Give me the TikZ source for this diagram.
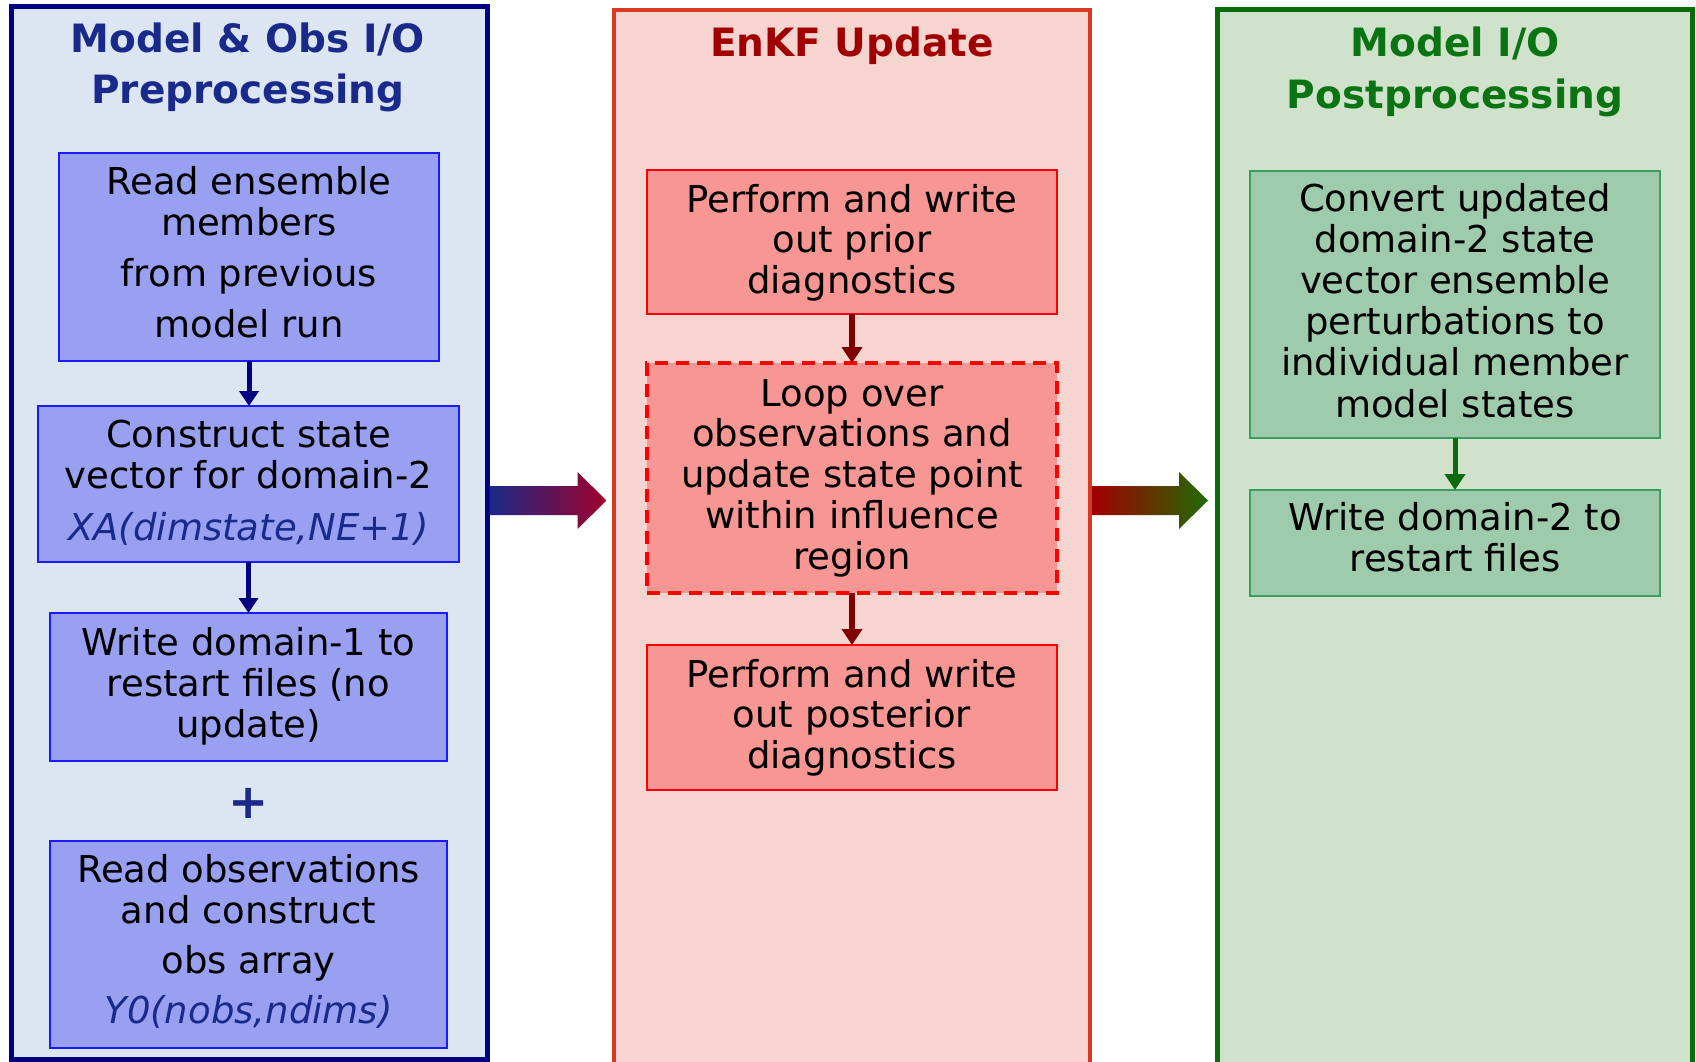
\documentclass[tikz,border=0pt]{standalone}
\usepackage{fontspec}
\setmainfont{DejaVu Sans}
\usetikzlibrary{arrows.meta}
\definecolor{panelblue}{HTML}{DCE6F2}
\definecolor{navyline}{HTML}{000080}
\definecolor{titleblue}{HTML}{1A2A8A}
\definecolor{boxbluefill}{HTML}{99A0F2}
\definecolor{boxblueline}{HTML}{1A1AFF}
\definecolor{panelred}{HTML}{F6D5D1}
\definecolor{panelredline}{HTML}{D93A22}
\definecolor{titlered}{HTML}{A00000}
\definecolor{boxredfill}{HTML}{F89693}
\definecolor{boxredline}{HTML}{FF0000}
\definecolor{arrred}{HTML}{800000}
\definecolor{panelgreen}{HTML}{D0E1CC}
\definecolor{panelgreenline}{HTML}{0A6B0A}
\definecolor{titlegreen}{HTML}{0A7412}
\definecolor{boxgreenfill}{HTML}{9FCBAD}
\definecolor{boxgreenline}{HTML}{3A9E5E}
\definecolor{arrgreen}{HTML}{0A6B0A}
\definecolor{gradred}{HTML}{A0002A}
\definecolor{gradred2}{HTML}{A00000}
\definecolor{gradgreen}{HTML}{1F6B00}
% box text: width, height, first-baseline offset, baselineskip, body
\newcommand\bxtext[5]{\parbox[t][#2][t]{#1}{\centering\fontsize{37pt}{#4}\selectfont\vspace*{\dimexpr#3-30pt\relax}\rule{0pt}{30pt}#5}}
% title text: width, first-baseline offset, baselineskip, body
\newcommand\ttltext[4]{\parbox[t]{#1}{\centering\fontsize{39pt}{#3}\selectfont\bfseries\vspace*{\dimexpr#2-32pt\relax}\rule{0pt}{32pt}#4}}
\begin{document}
\begin{tikzpicture}[x=1pt,y=-1pt,
  panel/.style={draw, rectangle, inner sep=0pt, outer sep=0pt, anchor=north west},
  bluebox/.style={draw=boxblueline, fill=boxbluefill, line width=2pt, rectangle, inner sep=0pt, outer sep=0pt, anchor=north west},
  redbox/.style={draw=boxredline, fill=boxredfill, line width=2pt, rectangle, inner sep=0pt, outer sep=0pt, anchor=north west},
  greenbox/.style={draw=boxgreenline, fill=boxgreenfill, line width=2pt, rectangle, inner sep=0pt, outer sep=0pt, anchor=north west},
  ttl/.style={anchor=north, inner sep=0pt},
  navyarr/.style={draw=navyline, line width=5pt, -{Triangle[width=19pt,length=15pt]}},
  redarr/.style={draw=arrred, line width=6pt, -{Triangle[width=20pt,length=16pt]}},
  greenarr/.style={draw=arrgreen, line width=5pt, -{Triangle[width=20pt,length=16pt]}}]
\useasboundingbox (0,0) rectangle (1696,1062);
\clip (0,0) rectangle (1696,1062);
\fill[white] (0,0) rectangle (1696,1062);

% panels
\node[panel, draw=navyline, fill=panelblue, line width=5pt, minimum width=476pt, minimum height=1052pt] (lp) at (11,7) {};
\node[panel, draw=panelredline, fill=panelred, line width=4pt, minimum width=476pt, minimum height=1080pt] (mp) at (614,10) {};
\node[panel, draw=panelgreenline, fill=panelgreen, line width=5pt, minimum width=475pt, minimum height=1080pt] (rp) at (1217,10) {};

% titles
\node[ttl, text=titleblue] (lt) at (248,20) {\ttltext{450pt}{32pt}{51pt}{Model \& Obs I/O\\Preprocessing}};
\node[ttl, text=titlered] (mt) at (852,24) {\ttltext{450pt}{32pt}{51pt}{EnKF Update}};
\node[ttl, text=titlegreen] (rt) at (1455,24) {\ttltext{450pt}{32pt}{52pt}{Model I/O\\Postprocessing}};

% left column boxes
\node[bluebox] (b1) at (59,153) {\bxtext{380pt}{208pt}{42pt}{40pt}{Read ensemble\\members\\[12pt]from previous\\[10pt]model run}};
\node[bluebox] (b2) at (38,406) {\bxtext{421pt}{156pt}{41pt}{41pt}{Construct state\\vector for domain-2\\[11pt]{\itshape\color{titleblue}XA(dimstate,NE+1)}}};
\node[bluebox] (b3) at (50,613) {\bxtext{397pt}{148pt}{42pt}{41pt}{Write domain-1 to\\restart files (no\\update)}};
\node[text=titleblue, font=\fontsize{48pt}{48pt}\selectfont\bfseries, inner sep=0pt] (plus) at (249,803) {+};
\node[bluebox] (b4) at (50,841) {\bxtext{397pt}{207pt}{41pt}{41pt}{Read observations\\and construct\\[9pt]obs array\\[9pt]{\itshape\color{titleblue}Y0(nobs,ndims)}}};

% middle column boxes
\node[redbox] (p1) at (647,170) {\bxtext{410pt}{144pt}{42pt}{40.5pt}{Perform and write\\out prior\\diagnostics}};
\node[redbox, dash pattern=on 13pt off 8pt, line width=4pt] (loop) at (647,363) {\bxtext{410pt}{230pt}{43pt}{40.75pt}{Loop over\\observations and\\update state point\\within influence\\region}};
\node[redbox] (p2) at (647,645) {\bxtext{410pt}{145pt}{42pt}{40.5pt}{Perform and write\\out posterior\\diagnostics}};

% right column boxes
\node[greenbox] (c1) at (1250,171) {\bxtext{410pt}{267pt}{40pt}{41.2pt}{Convert updated\\domain-2 state\\vector ensemble\\perturbations to\\individual member\\model states}};
\node[greenbox] (w2) at (1250,490) {\bxtext{410pt}{106pt}{40pt}{41pt}{Write domain-2 to\\restart files}};

% small arrows
\draw[navyarr] (b1.south) -- (b1.south |- b2.north);
\draw[navyarr] (b2.south) -- (b2.south |- b3.north);
\draw[redarr] (p1.south) -- (p1.south |- loop.north);
\draw[redarr] (loop.south) -- (loop.south |- p2.north);
\draw[greenarr] (c1.south) -- (c1.south |- w2.north);

% block arrows between panels
\coordinate (a1s) at ([xshift=2.5pt]lp.east |- 0,500.5);
\coordinate (a2s) at ([xshift=2pt]mp.east |- 0,500.5);
\shade[left color=titleblue, right color=gradred] (a1s) ++(0,-14.5) -- ++(88,0) -- ++(0,-14) -- ++(29,28.5) -- ++(-29,28.5) -- ++(0,-14) -- ++(-88,0) -- cycle;
\shade[left color=gradred2, right color=gradgreen] (a2s) ++(0,-14.5) -- ++(87,0) -- ++(0,-14) -- ++(29,28.5) -- ++(-29,28.5) -- ++(0,-14) -- ++(-87,0) -- cycle;
\end{tikzpicture}
\end{document}
